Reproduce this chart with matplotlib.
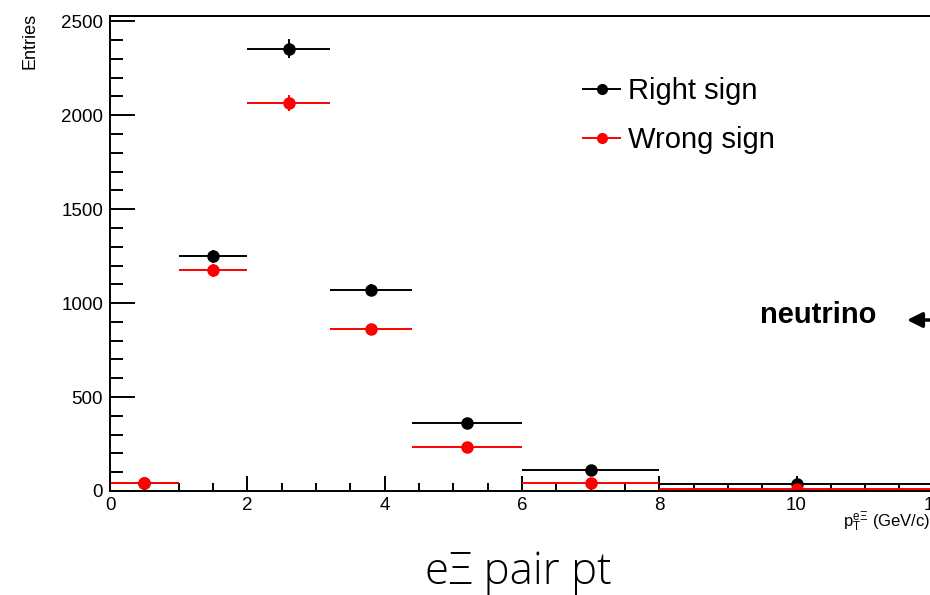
#!/usr/bin/env python3
"""
e-Xi pair pt, right sign vs wrong sign, drawn in a ROOT-like style
"""

import matplotlib
matplotlib.use('Agg')
import matplotlib.pyplot as plt
from matplotlib.lines import Line2D
from matplotlib.ticker import MultipleLocator

# bin edges in pt (GeV/c)
bin_edges = [0.0, 1.0, 2.0, 3.2, 4.4, 6.0, 8.0, 12.0]
right_sign = [45, 1250, 2355, 1070, 360, 110, 35]
right_err = [7, 35, 49, 33, 19, 10, 6]
wrong_sign = [45, 1175, 2065, 860, 235, 40, 10]
wrong_err = [7, 34, 45, 29, 15, 6, 3]

plt.rcParams['font.family'] = ['Liberation Sans', 'DejaVu Sans']
plt.rcParams['mathtext.fontset'] = 'custom'
plt.rcParams['mathtext.rm'] = 'Liberation Sans'
plt.rcParams['mathtext.it'] = 'Liberation Sans'


def main():
    centres = [(a + b) / 2 for a, b in zip(bin_edges[:-1], bin_edges[1:])]
    half_w = [(b - a) / 2 for a, b in zip(bin_edges[:-1], bin_edges[1:])]

    fig = plt.figure(figsize=(9.3, 5.95), dpi=100)
    ax = fig.add_axes([0.1183, 0.1748, 0.8858, 0.798])

    ax.errorbar(centres, right_sign, xerr=half_w, yerr=right_err, fmt='o',
                color='black', ms=8, lw=1.4, capsize=0)
    ax.errorbar(centres, wrong_sign, xerr=half_w, yerr=wrong_err, fmt='o',
                color='red', ms=8, lw=1.4, capsize=0)

    ax.set_xlim(0, 12)
    ax.set_ylim(0, 2527)
    ax.xaxis.set_major_locator(MultipleLocator(2))
    ax.xaxis.set_minor_locator(MultipleLocator(0.5))
    ax.yaxis.set_major_locator(MultipleLocator(500))
    ax.yaxis.set_minor_locator(MultipleLocator(100))
    # ROOT style: ticks inside, only on left and bottom
    ax.tick_params(which='both', direction='in', top=False, right=False,
                   width=1.4, labelsize=13.5, colors='black')
    ax.tick_params(axis='y', which='major', length=18, pad=5)
    ax.tick_params(axis='y', which='minor', length=9)
    ax.tick_params(axis='x', which='major', length=11, pad=4)
    ax.tick_params(axis='x', which='minor', length=6)
    for sp in ax.spines.values():
        sp.set_linewidth(1.4)

    fig.text(0.032, 0.978, 'Entries', rotation=90, ha='center', va='top',
             fontsize=13)
    fig.text(1.0, 0.1227, r'$p_{T}^{e\Xi}$ (GeV/c)', ha='right', va='center',
             fontsize=12)

    # legend handles: marker with a horizontal line only, like ROOT's "lep"
    handles = [Line2D([], [], color='black', marker='o', ms=7, lw=1.4),
               Line2D([], [], color='red', marker='o', ms=7, lw=1.4)]
    ax.legend(handles, ['Right sign', 'Wrong sign'], loc='upper left',
              bbox_to_anchor=(0.574, 0.871), frameon=False, fontsize=21,
              handlelength=1.28, handletextpad=0.28, labelspacing=0.71,
              borderpad=0, borderaxespad=0)

    fig.text(0.8175, 0.47, 'neutrino', fontsize=21, fontweight='bold',
             ha='left', va='center')
    ax.annotate('', xy=(907 / 930, 1 - 320 / 595), xycoords='figure fraction',
                xytext=(945 / 930, 1 - 320 / 595), textcoords='figure fraction',
                arrowprops=dict(arrowstyle='-|>,head_length=0.9,head_width=0.45',
                                color='black', lw=2.5, shrinkA=0, shrinkB=0),
                annotation_clip=False)

    fig.text(0.557, 0.019, 'e\u039e pair pt', fontsize=31.5, ha='center',
             va='baseline', family=['Open Sans', 'DejaVu Sans'],
             fontweight='light')

    fig.savefig('out.png', dpi=100)


if __name__ == "__main__":
    main()
